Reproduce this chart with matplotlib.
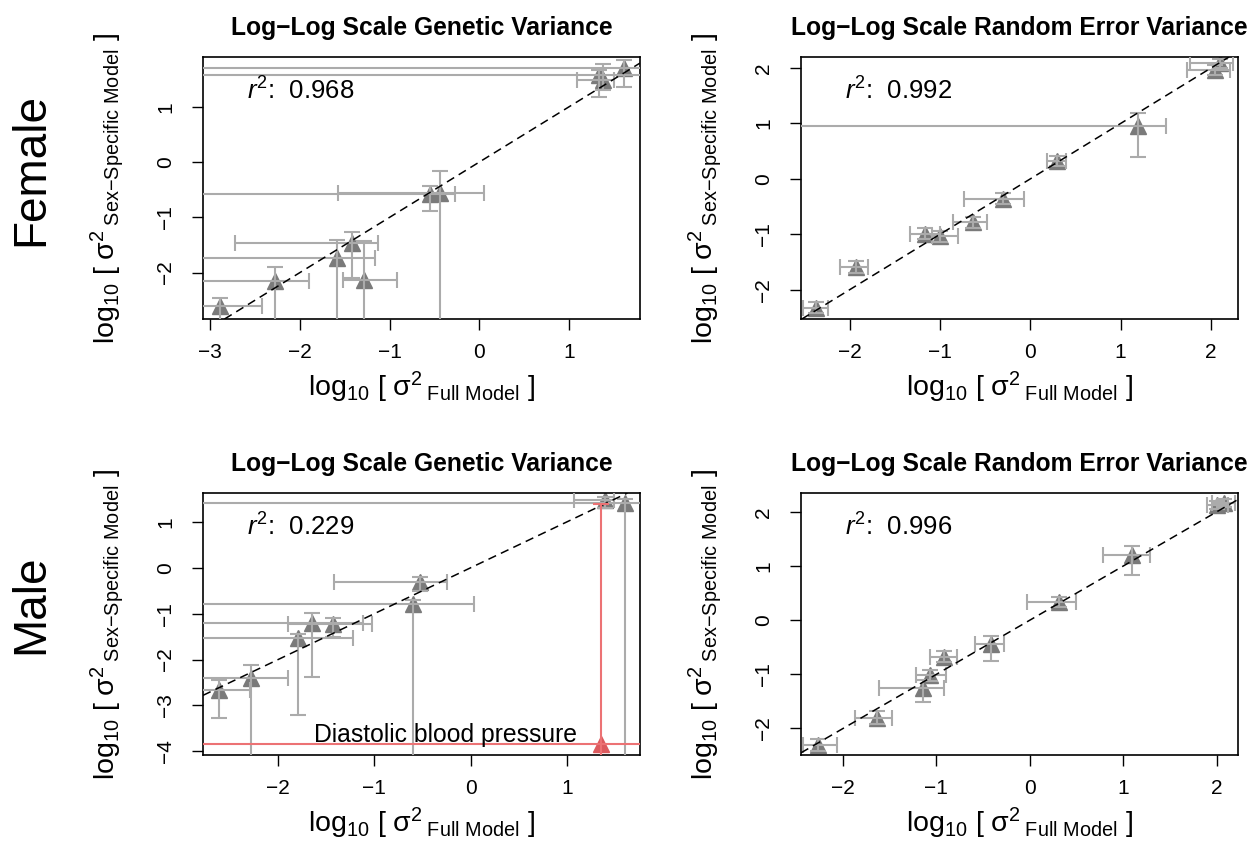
import numpy as np
import matplotlib
matplotlib.use("Agg")
import matplotlib.pyplot as plt

plt.rcParams['font.family'] = ['Liberation Sans', 'DejaVu Sans']
plt.rcParams['mathtext.fontset'] = 'custom'
plt.rcParams['mathtext.rm'] = 'Liberation Sans'
plt.rcParams['mathtext.it'] = 'Liberation Sans:italic'
plt.rcParams['mathtext.bf'] = 'Liberation Sans:bold'

OFF = 10.0  # bound beyond the plotted range

# Female, genetic variance
fg_x = [-2.89, -2.275, -1.59, -1.42, -1.29, -0.547, -0.444, 1.33, 1.38, 1.61]
fg_y = [-2.61, -2.16, -1.74, -1.47, -2.13, -0.58, -0.565, 1.57, 1.49, 1.71]
fg_xlo = [-OFF, -OFF, -OFF, -2.72, -1.52, -OFF, -1.58, -OFF, 1.09, -OFF]
fg_xhi = [-2.42, -1.90, -1.16, -1.13, -0.915, -0.27, 0.055, OFF, 1.50, OFF]
fg_ylo = [-OFF, -OFF, -OFF, -2.10, -OFF, -0.895, -OFF, 1.18, 1.30, 1.36]
fg_yhi = [-2.46, -1.90, -1.41, -1.26, -1.42, -0.43, -0.155, 1.66, 1.77, 1.85]

# Female, random error variance
fe_x = [-2.37, -1.93, -1.17, -1.00, -0.64, -0.30, 0.29, 1.19, 2.05, 2.10]
fe_y = [-2.33, -1.59, -0.99, -1.04, -0.78, -0.36, 0.33, 0.95, 1.97, 2.09]
fe_xlo = [-2.52, -2.11, -1.33, -1.09, -0.855, -0.74, 0.19, -OFF, 1.73, 1.77]
fe_xhi = [-2.24, -1.80, -1.00, -0.80, -0.48, -0.07, 0.39, 1.50, 2.21, 2.25]
fe_ylo = [-2.43, -1.70, -1.09, -1.14, -0.88, -0.46, 0.24, 0.39, 1.88, 2.01]
fe_yhi = [-2.23, -1.48, -0.89, -0.94, -0.68, -0.26, 0.42, 1.19, 2.06, 2.17]

# Male, genetic variance
mg_x = [-2.61, -2.28, -1.79, -1.65, -1.43, -0.53, -0.60, 1.40, 1.60]
mg_y = [-2.67, -2.41, -1.54, -1.21, -1.23, -0.31, -0.78, 1.47, 1.42]
mg_xlo = [-OFF, -OFF, -OFF, -OFF, -1.90, -1.42, -OFF, 1.07, -OFF]
mg_xhi = [-2.29, -1.90, -1.22, -1.12, -1.02, -0.25, 0.04, 1.49, OFF]
mg_ylo = [-3.28, -OFF, -3.21, -2.38, -1.51, -0.50, -OFF, 1.30, -OFF]
mg_yhi = [-2.45, -2.12, -1.45, -0.98, -1.10, -0.20, -0.70, 1.55, 1.50]

# Male, highlighted trait
dbp_name = "Diastolic blood pressure"
dbp_x, dbp_y = 1.35, -3.84
dbp_xlo, dbp_xhi = -OFF, OFF
dbp_ylo, dbp_yhi = -OFF, 1.40

# Male, random error variance
me_x = [-2.27, -1.64, -1.14, -1.07, -0.92, -0.42, 0.31, 1.09, 2.00, 2.08]
me_y = [-2.31, -1.80, -1.26, -1.02, -0.68, -0.44, 0.34, 1.20, 2.12, 2.17]
me_xlo = [-2.43, -1.87, -1.61, -1.22, -1.07, -0.59, -0.03, 0.78, 1.90, 1.95]
me_xhi = [-2.06, -1.48, -0.92, -0.90, -0.78, -0.28, 0.50, 1.29, 2.12, 2.20]
me_ylo = [-2.41, -1.92, -1.51, -1.12, -0.78, -0.75, 0.25, 0.83, 2.06, 2.10]
me_yhi = [-2.20, -1.68, -1.10, -0.92, -0.56, -0.29, 0.42, 1.37, 2.20, 2.24]

r2_vals = [0.968, 0.992, 0.229, 0.996]
titles = ["Log\u2212Log Scale Genetic Variance", "Log\u2212Log Scale Random Error Variance"]
rows = ["Female", "Male"]

W, H = 1256, 851
GRAY = '#ababab'
TRI = '#7a7a7a'
RED = '#ec7274'
RED_TRI = '#dc5a5e'

XLAB = r'$\mathrm{log}_{10}\ [\ \mathrm{σ}^{2}\,{}_{\mathrm{Full\ Model}}\ ]$'
YLAB = r'$\mathrm{log}_{10}\ [\ \mathrm{σ}^{2}\,{}_{\mathrm{Sex{-}Specific\ Model}}\ ]$'


def box(left, top, right, bottom):
    return [left / W, 1 - bottom / H, (right - left) / W, (bottom - top) / H]


def draw_panel(ax, x, y, xlo, xhi, ylo, yhi, ecol=GRAY, mcol=TRI):
    x = np.asarray(x, float)
    y = np.asarray(y, float)
    xerr = [x - np.asarray(xlo), np.asarray(xhi) - x]
    yerr = [y - np.asarray(ylo), np.asarray(yhi) - y]
    ax.plot(x, y, linestyle='none', marker='^', markersize=11, color=mcol, zorder=2)
    ax.errorbar(x, y, xerr=xerr, yerr=yerr, fmt='none', ecolor=ecol,
                elinewidth=1.5, capsize=5.5, capthick=1.5, zorder=3)


fig = plt.figure(figsize=(W / 100, H / 100), dpi=100)

panels = [
    (box(203, 57, 640, 319), (fg_x, fg_y, fg_xlo, fg_xhi, fg_ylo, fg_yhi), (-3.08, 1.79), (-2.84, 1.90), [-3, -2, -1, 0, 1], [-2, -1, 0, 1]),
    (box(801, 57, 1238, 319), (fe_x, fe_y, fe_xlo, fe_xhi, fe_ylo, fe_yhi), (-2.54, 2.30), (-2.53, 2.20), [-2, -1, 0, 1, 2], [-2, -1, 0, 1, 2]),
    (box(203, 493, 640, 755), (mg_x, mg_y, mg_xlo, mg_xhi, mg_ylo, mg_yhi), (-2.78, 1.76), (-4.08, 1.63), [-2, -1, 0, 1], [-4, -3, -2, -1, 0, 1]),
    (box(801, 493, 1238, 755), (me_x, me_y, me_xlo, me_xhi, me_ylo, me_yhi), (-2.45, 2.23), (-2.49, 2.35), [-2, -1, 0, 1, 2], [-2, -1, 0, 1, 2]),
]

axes = []
for i, (rect, data, xl, yl, xt, yt) in enumerate(panels):
    ax = fig.add_axes(rect)
    axes.append(ax)
    draw_panel(ax, *data)
    ax.axline((0, 0), slope=1, color='black', linestyle=(0, (5.5, 3.5)), linewidth=1.1, zorder=4)
    ax.set_xlim(xl)
    ax.set_ylim(yl)
    ax.set_xticks(xt)
    ax.set_yticks(yt)
    ax.tick_params(direction='out', length=8, width=1, labelsize=15)
    ax.tick_params(axis='x', pad=9)
    ax.tick_params(axis='y', pad=12)
    plt.setp(ax.get_yticklabels(), rotation=90, va='center')
    for s in ax.spines.values():
        s.set_linewidth(1.2)
    ax.set_title(titles[i % 2], fontsize=17.7, fontweight='bold', pad=16)
    ax.text(0.10, 0.87, r'$r^{2}$:  %.3f' % r2_vals[i], transform=ax.transAxes,
            fontsize=18.5, ha='left', va='center')
    ax.text(0.5, -0.26, XLAB, transform=ax.transAxes, fontsize=20.5, ha='center', va='center')
    ax.text(-0.22, 0.5, YLAB, transform=ax.transAxes, fontsize=20.5, ha='center', va='center',
            rotation=90)

# highlighted trait in the male genetic panel
ax = axes[2]
ax.plot([dbp_x], [dbp_y], linestyle='none', marker='^', markersize=11, color=RED_TRI, zorder=5)
ax.errorbar([dbp_x], [dbp_y], xerr=[[dbp_x - dbp_xlo], [dbp_xhi - dbp_x]],
            yerr=[[dbp_y - dbp_ylo], [dbp_yhi - dbp_y]], fmt='none', ecolor=RED,
            elinewidth=1.5, capsize=5.5, capthick=1.5, zorder=5)
ax.text(-0.26, -3.64, dbp_name, fontsize=17.8, ha='center', va='center', zorder=6)

for lab, yc in zip(rows, [170, 604]):
    fig.text(31 / W, 1 - yc / H, lab, fontsize=33, rotation=90, ha='center', va='center')

fig.savefig('out.png', dpi=100)
